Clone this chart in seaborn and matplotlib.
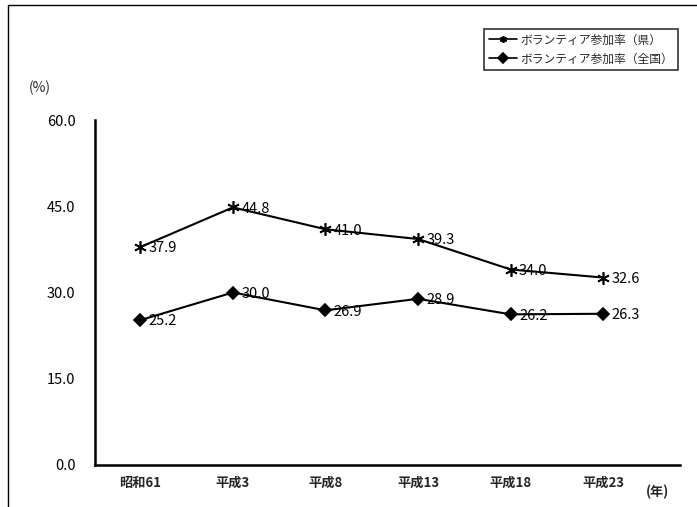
import numpy as np
import pandas as pd
import matplotlib
matplotlib.use("Agg")
import matplotlib.pyplot as plt
from matplotlib.lines import Line2D
import seaborn as sns

# ─── data ────────────────────────────────────────────────────────────────────
years = ["昭和61", "平成3", "平成8", "平成13", "平成18", "平成23"]
pref_rate = [37.9, 44.8, 41.0, 39.3, 34.0, 32.6]
nation_rate = [25.2, 30.0, 26.9, 28.9, 26.2, 26.3]
series_names = ["ボランティア参加率（県）", "ボランティア参加率（全国）"]
y_ticks = [0, 15, 30, 45, 60]

sns.set_theme(style="white")
plt.rcParams["font.family"] = ["Noto Sans CJK JP", "DejaVu Sans"]

df = pd.DataFrame({
    "pos": list(range(len(years))) * 2,
    "rate": pref_rate + nation_rate,
    "series": [series_names[0]] * len(years) + [series_names[1]] * len(years),
})

fig = plt.figure(figsize=(6.97, 5.07), dpi=100)
ax = fig.add_axes([95 / 697, 42 / 507, 585 / 697, 345 / 507])

markers = {series_names[0]: (6, 2, 0), series_names[1]: "D"}
sizes = {series_names[0]: 9, series_names[1]: 6}
for name in series_names:
    sub = df[df["series"] == name]
    sns.lineplot(data=sub, x="pos", y="rate", ax=ax, color="black", linewidth=1.5,
                 marker=markers[name], markersize=sizes[name], markeredgewidth=1.2,
                 markeredgecolor="black", label=name)
    for xp, v in zip(sub["pos"], sub["rate"]):
        ax.annotate(f"{v:.1f}", (xp, v), xytext=(6, -1), textcoords="offset points",
                    ha="left", va="center", fontsize=10.5, color="black")

ax.set_xlim(-0.49, 5.83)
ax.set_ylim(0, 60)
ax.set_xticks(range(len(years)))
ax.set_xticklabels(years, fontsize=9.5, fontweight="semibold")
ax.set_yticks(y_ticks)
ax.set_yticklabels([f"{t:.1f}" for t in y_ticks], fontsize=10.5)
ax.tick_params(axis="x", length=0, pad=8)
ax.tick_params(axis="y", direction="in", length=3, width=1, pad=14, colors="black")
ax.set_xlabel("")
ax.set_ylabel("")
for s in ["top", "right"]:
    ax.spines[s].set_visible(False)
for s in ["left", "bottom"]:
    ax.spines[s].set_color("black")
    ax.spines[s].set_linewidth(1.8)

ax.text(-0.094, 1.093, "(%)", transform=ax.transAxes, fontsize=10,
        ha="center", va="center")
ax.text(0.962, -0.078, "(年)", transform=ax.transAxes, fontsize=9.5,
        ha="center", va="center", fontweight="semibold")

leg = ax.legend(loc="upper left", bbox_to_anchor=(478 / 697, 1 - 23 / 507),
                bbox_transform=fig.transFigure, fontsize=8.5, frameon=True,
                fancybox=False, edgecolor="black", handlelength=2.4,
                borderpad=0.4, labelspacing=0.5, handletextpad=0.3)
leg.get_frame().set_linewidth(1.2)
for h in leg.legend_handles:
    h.set_markersize(5)
    h.set_linewidth(1.2)

# scanned page border
fig.add_artist(Line2D([8 / 697, 1], [1 - 5 / 507, 1 - 5 / 507], color="black", lw=1))
fig.add_artist(Line2D([8 / 697, 8 / 697], [0, 1 - 5 / 507], color="black", lw=1))

fig.savefig("out.png", dpi=100)
